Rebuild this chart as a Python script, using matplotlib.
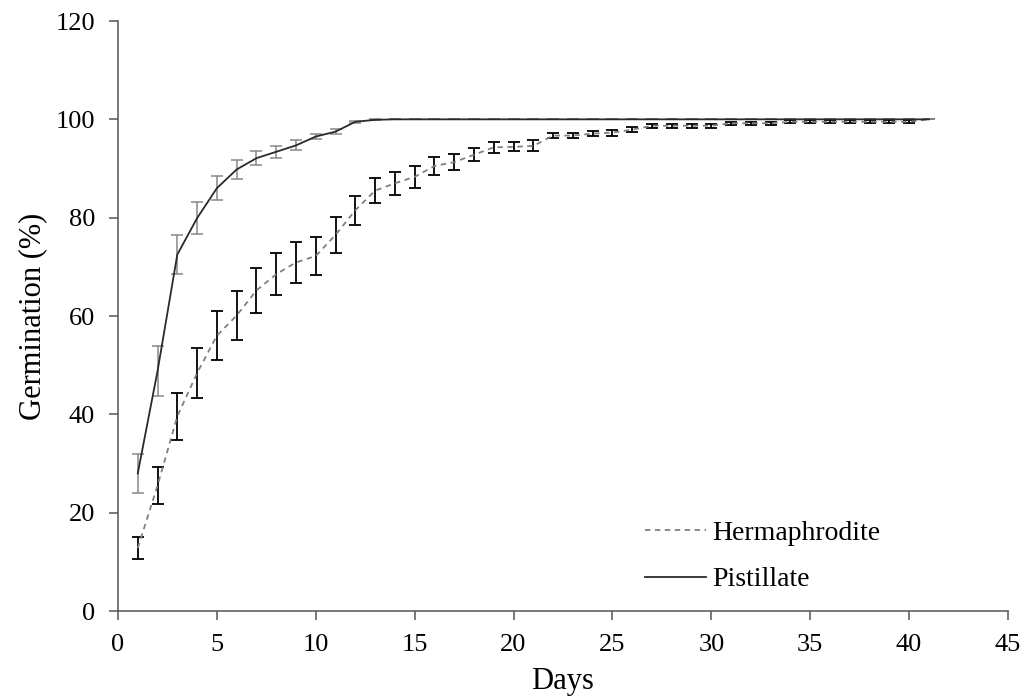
import matplotlib
matplotlib.use("Agg")
import matplotlib.pyplot as plt
from matplotlib.lines import Line2D
import numpy as np

plt.rcParams['font.family'] = ['Liberation Serif', 'DejaVu Serif']

days = np.arange(1, 42)

# Pistillate germination (%) and error
pist_mean = [28.0, 48.8, 72.5, 79.9, 86.0, 89.8, 92.1, 93.4, 94.7, 96.5,
             97.5, 99.5, 99.9] + [100.0] * 28
pist_err = [4.0, 5.0, 4.0, 3.2, 2.5, 1.9, 1.4, 1.2, 1.0, 0.6,
            0.45, 0.2, 0.1] + [0.0] * 28

# Hermaphrodite germination (%) and error
herm_mean = [12.8, 25.5, 39.6, 48.4, 56.0, 60.1, 65.2, 68.5, 70.9, 72.2,
             76.5, 81.5, 85.5, 87.0, 88.3, 90.5, 91.3, 92.8, 94.3, 94.4,
             94.6, 96.7, 96.7, 97.1, 97.3, 97.9, 98.7, 98.7, 98.7, 98.7,
             99.2, 99.2, 99.2, 99.5, 99.5, 99.5, 99.5, 99.5, 99.5, 99.5, 100.0]
herm_err = [2.2, 3.7, 4.8, 5.0, 5.0, 4.9, 4.5, 4.3, 4.1, 3.9,
            3.6, 2.9, 2.5, 2.3, 2.2, 1.8, 1.6, 1.3, 1.1, 0.9,
            1.1, 0.55, 0.5, 0.5, 0.6, 0.5, 0.4, 0.4, 0.4, 0.4,
            0.3, 0.3, 0.3, 0.3, 0.3, 0.3, 0.3, 0.3, 0.3, 0.3, 0.0]

fig = plt.figure(figsize=(10.25, 7), dpi=100)
ax = fig.add_axes([0.1151, 0.1271, 0.8683, 0.8429])

ax.errorbar(days, herm_mean, yerr=herm_err, fmt='none', ecolor='black',
            elinewidth=1.3, capsize=4.5, capthick=1.3, zorder=2)
ax.plot(days, herm_mean, color='#808080', lw=1.3, dashes=(3, 2.5), zorder=3)

ax.errorbar(days, pist_mean, yerr=pist_err, fmt='none', ecolor='#888888',
            elinewidth=1.1, capsize=4.5, capthick=1.1, zorder=4)
ax.plot(days, pist_mean, color='#2a2a2a', lw=1.3, zorder=5)

ax.set_xlim(0, 45)
ax.set_ylim(0, 120)
ax.set_xticks(np.arange(0, 46, 5))
ax.set_yticks(np.arange(0, 121, 20))

for s in ['top', 'right']:
    ax.spines[s].set_visible(False)
for s in ['left', 'bottom']:
    ax.spines[s].set_color('#555555')
    ax.spines[s].set_linewidth(1.1)
ax.tick_params(direction='out', length=6.5, width=1.1, color='#555555',
               labelsize=19, pad=10)

ax.set_xlabel('Days', fontsize=22, labelpad=8)
ax.set_ylabel('Germination (%)', fontsize=22, labelpad=6)

handles = [Line2D([], [], color='#808080', lw=1.3, dashes=(3, 2.5)),
           Line2D([], [], color='#2a2a2a', lw=1.3)]
fig.legend(handles, ['Hermaphrodite', 'Pistillate'], loc='center left',
           bbox_to_anchor=(0.616, 0.205), frameon=False, fontsize=20,
           borderpad=0, handlelength=2.2, handletextpad=0.2, labelspacing=0.75)

fig.savefig('out.png', dpi=100)
